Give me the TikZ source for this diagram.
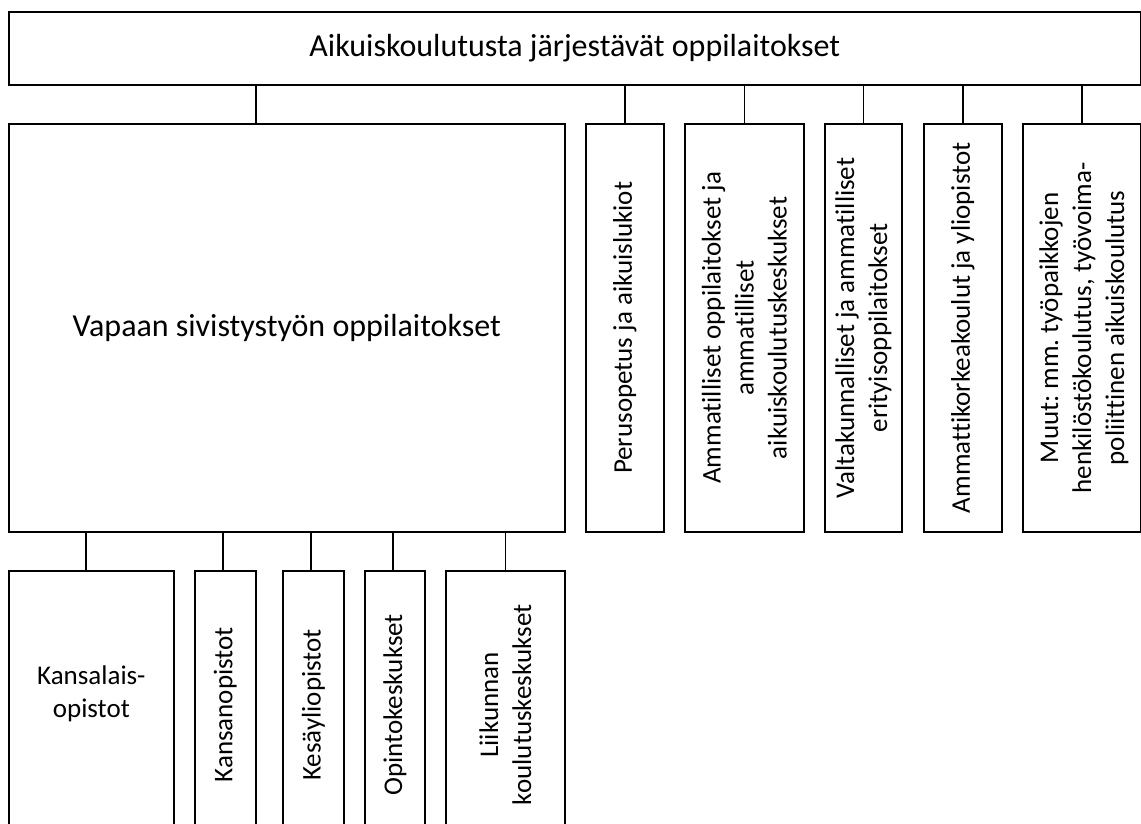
\documentclass[tikz,border=0pt]{standalone}
\usepackage{fontspec}
\setmainfont{Carlito}[Ligatures=NoCommon]
\frenchspacing
\begin{document}
\begin{tikzpicture}[x=1pt,y=-1pt,
  box/.style={draw=black,line width=1.7pt,rectangle,inner sep=0pt,anchor=north west},
  bigtxt/.style={font=\fontsize{32}{38}\selectfont,inner sep=0pt,align=center},
  vtxt/.style={font=\fontsize{27}{33}\selectfont,inner sep=0pt,align=center,rotate=90},
  htxt/.style={font=\fontsize{27}{33}\selectfont,inner sep=0pt,align=center},
  link/.style={line width=1.7pt}]
\useasboundingbox (0,0) rectangle (1141,823);
\clip (0,0) rectangle (1141,823);
% top
\node[box,minimum width=1132pt,minimum height=73pt] (top) at (8,11) {};
\node[bigtxt] (toptxt) at (top.center) {Aikuiskoulutusta järjestävät oppilaitokset};
% second row
\node[box,minimum width=556pt,minimum height=408pt] (vap) at (8,123) {};
\node[bigtxt] (vaptxt) at (vap.center) {Vapaan sivistystyön oppilaitokset};
\node[box,minimum width=78pt,minimum height=408pt] (per) at (585,123) {};
\node[vtxt] (pertxt) at (per.center) {Perusopetus ja aikuislukiot};
\node[box,minimum width=119pt,minimum height=408pt] (amm) at (684,123) {};
\node[vtxt] (ammtxt) at (amm.center) {Ammatilliset oppilaitokset ja\\ammatilliset\\aikuiskoulutuskeskukset};
\node[box,minimum width=77pt,minimum height=408pt] (val) at (824,123) {};
\node[vtxt] (valtxt) at (val.center) {Valtakunnalliset ja ammatilliset\\erityisoppilaitokset};
\node[box,minimum width=78pt,minimum height=408pt] (amk) at (923,123) {};
\node[vtxt] (amktxt) at (amk.center) {Ammattikorkeakoulut ja yliopistot};
\node[box,minimum width=118pt,minimum height=408pt] (muu) at (1022,123) {};
\node[vtxt] (muutxt) at ([xshift=2pt]muu.center) {Muut: mm. työpaikkojen\\henkilöstökoulutus, työvoima-\\poliittinen aikuiskoulutus};
% third row
\node[box,minimum width=165pt,minimum height=260pt] (kop) at (8,570) {};
\node[htxt] (koptxt) at ([yshift=7pt]kop.center) {Kansalais-\\opistot};
\node[box,minimum width=61pt,minimum height=260pt] (kan) at (194,570) {};
\node[vtxt] (kantxt) at ([yshift=-4pt]kan.center) {Kansanopistot};
\node[box,minimum width=61pt,minimum height=260pt] (kes) at (282,570) {};
\node[vtxt] (kestxt) at ([yshift=-4pt]kes.center) {Kesäyliopistot};
\node[box,minimum width=60pt,minimum height=260pt] (opi) at (364,570) {};
\node[vtxt] (opitxt) at ([yshift=-4pt]opi.center) {Opintokeskukset};
\node[box,minimum width=119pt,minimum height=260pt] (lii) at (445,570) {};
\node[vtxt] (liitxt) at ([yshift=-4pt]lii.center) {Liikunnan\\koulutuskeskukset};
% connectors
\draw[link] ([xshift=-31pt]vap.north) -- ([xshift=-31pt]vap.north |- top.south);
\foreach \n in {per,amm,val,amk,muu}{
  \draw[link] (\n.north) -- (\n.north |- top.south);
}
\draw[link] ([xshift=-5.5pt]kop.north) -- ([xshift=-5.5pt]kop.north |- vap.south);
\draw[link] ([xshift=-2.5pt]kan.north) -- ([xshift=-2.5pt]kan.north |- vap.south);
\draw[link] ([xshift=-2.5pt]kes.north) -- ([xshift=-2.5pt]kes.north |- vap.south);
\draw[link] ([xshift=-2pt]opi.north) -- ([xshift=-2pt]opi.north |- vap.south);
\draw[link] (lii.north) -- (lii.north |- vap.south);
\end{tikzpicture}
\end{document}
